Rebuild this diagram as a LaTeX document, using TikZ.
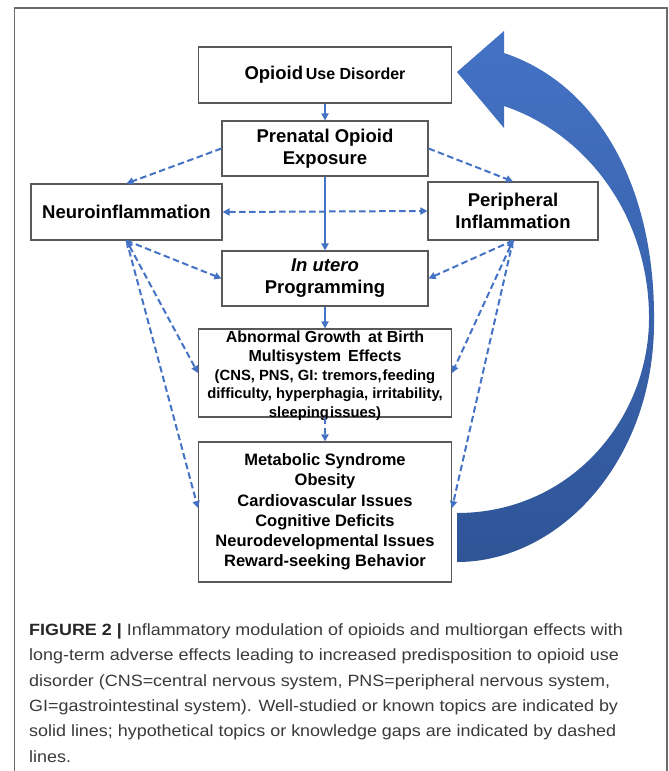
\documentclass[tikz,border=0pt]{standalone}
\usepackage{fontspec}
\setmainfont{Liberation Sans}
\newfontfamily\capfont[FakeStretch=1.1]{Liberation Sans}
\usetikzlibrary{arrows.meta}
\definecolor{oblue}{HTML}{4472C4}
\definecolor{dblue}{HTML}{2F5597}
\definecolor{framegray}{HTML}{6B6B6B}
\definecolor{boxgray}{HTML}{595959}
\definecolor{captext}{HTML}{3A3A3A}
\begin{document}
\begin{tikzpicture}[x=1pt,y=-1pt,
  box/.style={draw=boxgray, line width=1.1pt, rectangle, inner sep=0pt, align=center, font=\bfseries},
  conn/.style={draw=oblue, line width=2pt, -{Triangle[length=7pt,width=7pt]}},
  dconn/.style={conn, dash pattern=on 6.5pt off 3.5pt},
  ddconn/.style={dconn, {Triangle[length=7pt,width=7pt]}-{Triangle[length=7pt,width=7pt]}},
  capline/.style={anchor=base west, inner sep=0pt, text=captext, font=\capfont\fontsize{16.3}{20}\selectfont}
]
\useasboundingbox (0,0) rectangle (669,771);
\fill[white] (0,0) rectangle (669,771);
\draw[framegray, line width=1.3pt] (14.5,775) -- (14.5,8) -- (667,8) -- (667,775);

% big curved arrow
\path[top color=oblue, bottom color=dblue]
  (457,562) .. controls (560,562) and (655,460) .. (654,320)
  .. controls (655,190) and (600,85) .. (504,53)
  -- (504,31) -- (457,72) -- (504,128) -- (504,106)
  .. controls (590,135) and (650,220) .. (649,320)
  .. controls (648,420) and (570,513) .. (457,513) -- cycle;

% boxes
\node[box, minimum width=253pt, minimum height=56pt] (oud) at (325,75)
  {{\fontsize{18.5}{22}\selectfont Opioid} {\fontsize{16}{20}\selectfont Use Disorder}};
\node[box, minimum width=206pt, minimum height=55pt, font=\bfseries\fontsize{18.5}{22}\selectfont] (pre) at (325,148.5)
  {Prenatal Opioid\\Exposure};
\node[box, minimum width=191pt, minimum height=56pt, font=\bfseries\fontsize{18.5}{22}\selectfont] (neuro) at (126.5,212)
  {Neuroinflammation};
\node[box, minimum width=170pt, minimum height=58pt, font=\bfseries\fontsize{18.5}{22}\selectfont] (peri) at (513,211)
  {Peripheral\\Inflammation};
\node[box, minimum width=206pt, minimum height=55pt, font=\bfseries\fontsize{18.5}{22}\selectfont] (utero) at (325,278.5)
  {\textit{In utero}\\Programming};
\node[box, minimum width=253pt, minimum height=88pt] (abn) at (325,373) {};
\node[align=center, inner sep=0pt, font=\bfseries\fontsize{16}{18.7}\selectfont] (abntext) at (325,376)
  {Abnormal Growth\ \,at Birth\\
   Multisystem\ \,Effects\\
   {\fontsize{14.8}{18.7}\selectfont (CNS, PNS, GI: tremors,\hspace{1pt}feeding}\\
   {\fontsize{14.8}{18.7}\selectfont difficulty, hyperphagia, irritability,}\\
   {\fontsize{14.8}{18.7}\selectfont sleeping\hspace{1pt}issues)}};
\node[box, minimum width=253pt, minimum height=140pt, font=\bfseries\fontsize{16.5}{20.2}\selectfont] (met) at (325,512)
  {Metabolic Syndrome\\Obesity\\Cardiovascular Issues\\Cognitive Deficits\\Neurodevelopmental Issues\\Reward-seeking Behavior};

% connectors
\draw[conn] (oud.south) -- (pre.north);
\draw[conn] (pre.south) -- (utero.north);
\draw[conn] (utero.south) -- (abn.north);
\draw[dconn] (abn.south) -- (met.north);
\draw[dconn] (pre.west) -- (neuro.north);
\draw[dconn] (pre.east) -- (peri.north);
\draw[ddconn] (neuro.east) -- (peri.west);
\draw[dconn] (neuro.south) -- (utero.west);
\draw[ddconn] (neuro.south) -- (abn.west);
\draw[dconn] (neuro.south) -- ([yshift=4pt]met.west);
\draw[dconn] (peri.south) -- (utero.east);
\draw[ddconn] (peri.south) -- (abn.east);
\draw[dconn] (peri.south) -- ([yshift=4pt]met.east);

% caption
\node[capline] (cap1) at (29,635) {{\bfseries\color{black!85}FIGURE 2 |} Inflammatory modulation of opioids and multiorgan effects with};
\node[capline] (cap2) at (29,660.5) {long-term adverse effects leading to increased predisposition to opioid use};
\node[capline] (cap3) at (29,686) {disorder (CNS=central nervous system, PNS=peripheral nervous system,};
\node[capline] (cap4) at (29,711) {GI=gastrointestinal system). Well-studied or known topics are indicated by};
\node[capline] (cap5) at (29,736.5) {solid lines; hypothetical topics or knowledge gaps are indicated by dashed};
\node[capline] (cap6) at (29,762) {lines.};
\end{tikzpicture}
\end{document}
